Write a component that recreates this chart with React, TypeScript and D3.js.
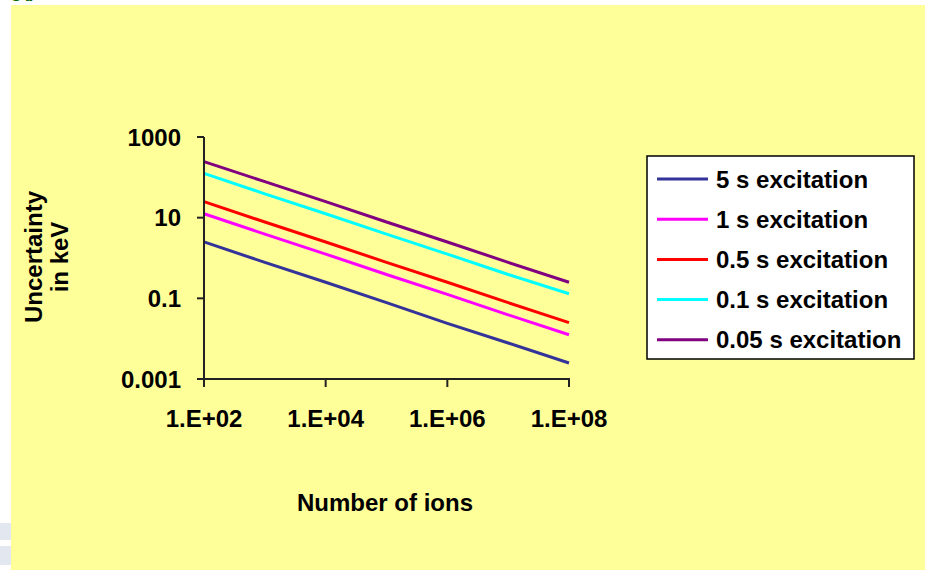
import React from "react";
import * as d3 from "d3";

const ions = [1e2, 1e3, 1e4, 1e5, 1e6, 1e7, 1e8];
const series5s = [2.5, 0.78, 0.25, 0.078, 0.024, 0.0078, 0.0025];
const series1s = [12.5, 3.9, 1.25, 0.39, 0.125, 0.039, 0.0125];
const series05s = [25, 7.8, 2.5, 0.78, 0.25, 0.078, 0.025];
const series01s = [125, 39, 12.5, 3.9, 1.25, 0.39, 0.13];
const series005s = [245, 78, 25, 7.8, 2.5, 0.78, 0.25];
const seriesNames = ["5 s excitation", "1 s excitation", "0.5 s excitation", "0.1 s excitation", "0.05 s excitation"];
const seriesColors = ["#333399", "#FF00FF", "#FF0000", "#00FFFF", "#800080"];
const xTicks = [1e2, 1e4, 1e6, 1e8];
const xTickLabels = ["1.E+02", "1.E+04", "1.E+06", "1.E+08"];
const yTicks = [1000, 10, 0.1, 0.001];
const yTickLabels = ["1000", "10", "0.1", "0.001"];

const allSeries = [series5s, series1s, series05s, series01s, series005s];

export default function App() {
  const x = d3.scaleLog().domain([1e2, 1e8]).range([204, 569]);
  const y = d3.scaleLog().domain([0.001, 1000]).range([379, 137]);
  const line = d3
    .line<number>()
    .x((_, i) => x(ions[i]))
    .y((d) => y(d));
  const font = "Arial, 'Liberation Sans', sans-serif";

  return (
    <svg
      width={925}
      height={570}
      style={{ position: "absolute", left: 0, top: 0 }}
      fontFamily={font}
      fontWeight="bold"
    >
      <rect x={0} y={0} width={925} height={570} fill="#ffffff" />
      <rect x={11} y={5} width={914} height={565} fill="#FFFF99" />
      <rect x={0} y={523} width={11} height={17} fill="#E3E7EF" />
      <rect x={0} y={546} width={11} height={19} fill="#E3E7EF" />
      <text x={-2} y={-3} fontSize={20} fill="#006600">
        og()
      </text>

      {allSeries.map((s, i) => (
        <path key={i} d={line(s) || ""} fill="none" stroke={seriesColors[i]} strokeWidth={3} />
      ))}

      {/* axes */}
      <line x1={204} y1={137} x2={204} y2={380} stroke="#222" strokeWidth={2} />
      <line x1={203} y1={379} x2={570} y2={379} stroke="#222" strokeWidth={2} />
      {yTicks.map((t, i) => (
        <g key={"y" + i}>
          <line x1={197} x2={204} y1={y(t)} y2={y(t)} stroke="#222" strokeWidth={2} />
          <text x={181} y={y(t) + 8.5} textAnchor="end" fontSize={24} fill="#000">
            {yTickLabels[i]}
          </text>
        </g>
      ))}
      {xTicks.map((t, i) => (
        <g key={"x" + i}>
          <line x1={x(t)} x2={x(t)} y1={379} y2={387} stroke="#222" strokeWidth={2} />
          <text x={x(t)} y={427} textAnchor="middle" fontSize={24} fill="#000">
            {xTickLabels[i]}
          </text>
        </g>
      ))}

      <text x={385} y={511} textAnchor="middle" fontSize={24} fill="#000">
        Number of ions
      </text>
      <text transform="translate(42,257) rotate(-90)" textAnchor="middle" fontSize={24} fill="#000">
        Uncertainty
      </text>
      <text transform="translate(68,257) rotate(-90)" textAnchor="middle" fontSize={24} fill="#000">
        in keV
      </text>

      {/* legend */}
      <rect x={647} y={156} width={267} height={203} fill="#ffffff" stroke="#000" strokeWidth={1.5} />
      {seriesNames.map((n, i) => (
        <g key={"l" + i}>
          <line x1={657} x2={708} y1={179 + i * 40.2} y2={179 + i * 40.2} stroke={seriesColors[i]} strokeWidth={3} />
          <text x={716} y={179 + i * 40.2 + 8.5} fontSize={24} fill="#000">
            {n}
          </text>
        </g>
      ))}
    </svg>
  );
}
